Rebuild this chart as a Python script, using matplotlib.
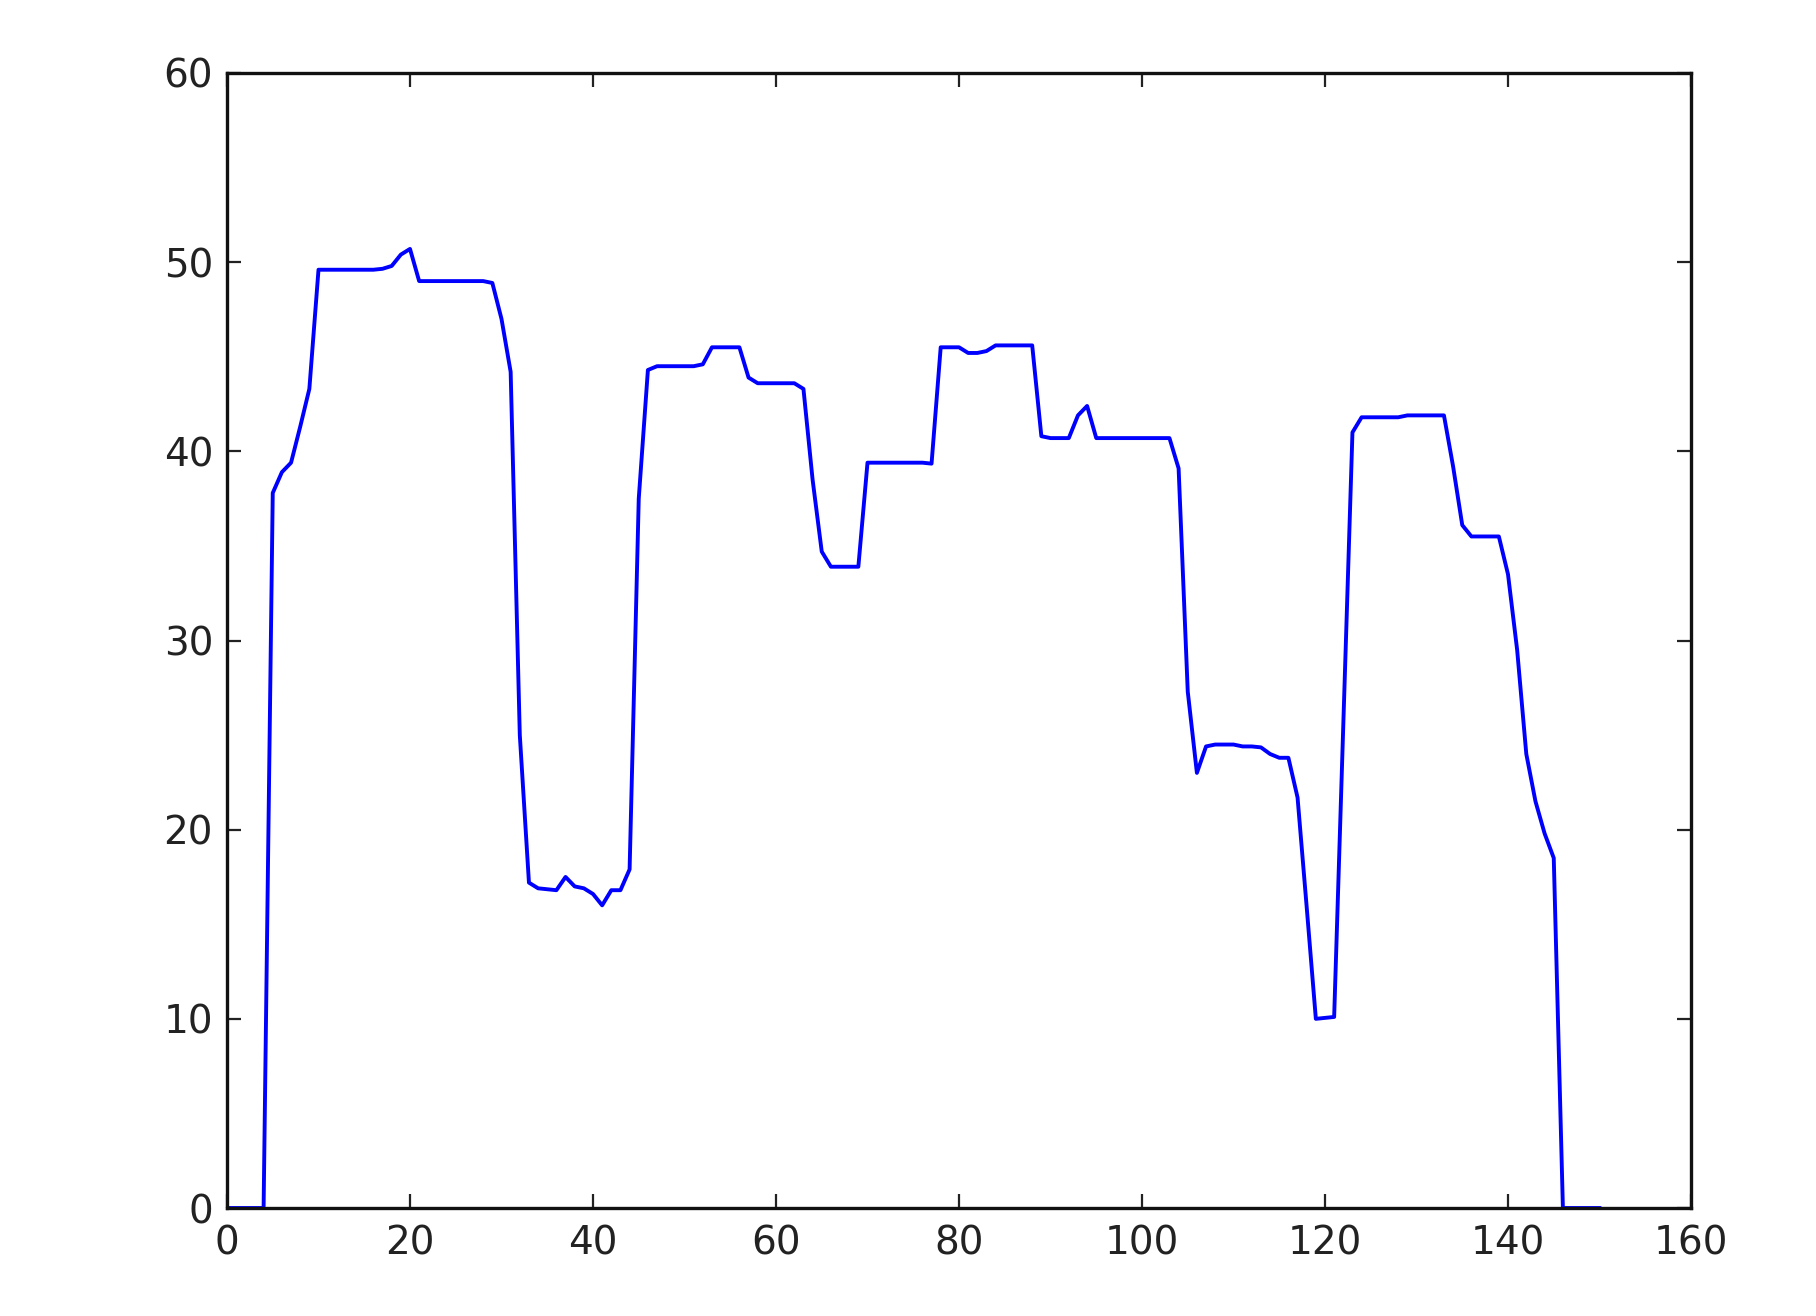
import numpy as np
import matplotlib
matplotlib.use("Agg")
import matplotlib.pyplot as plt

x_values = list(range(151))
y_values = [
    0, 0, 0, 0, 0, 37.8, 38.9, 39.4, 41.3, 43.3,
    49.6, 49.6, 49.6, 49.6, 49.6, 49.6, 49.6, 49.65, 49.8, 50.4,
    50.7, 49.0, 49.0, 49.0, 49.0, 49.0, 49.0, 49.0, 49.0, 48.9,
    47.0, 44.2, 25.0, 17.2, 16.9, 16.85, 16.8, 17.5, 17.0, 16.9,
    16.6, 16.0, 16.8, 16.8, 17.9, 37.5, 44.3, 44.5, 44.5, 44.5,
    44.5, 44.5, 44.6, 45.5, 45.5, 45.5, 45.5, 43.9, 43.6, 43.6,
    43.6, 43.6, 43.6, 43.3, 38.5, 34.7, 33.9, 33.9, 33.9, 33.9,
    39.4, 39.4, 39.4, 39.4, 39.4, 39.4, 39.4, 39.35, 45.5, 45.5,
    45.5, 45.2, 45.2, 45.3, 45.6, 45.6, 45.6, 45.6, 45.6, 40.8,
    40.7, 40.7, 40.7, 41.9, 42.4, 40.7, 40.7, 40.7, 40.7, 40.7,
    40.7, 40.7, 40.7, 40.7, 39.1, 27.3, 23.0, 24.4, 24.5, 24.5,
    24.5, 24.4, 24.4, 24.35, 24.0, 23.8, 23.8, 21.7, 15.9, 10.0,
    10.05, 10.1, 25.5, 41.0, 41.8, 41.8, 41.8, 41.8, 41.8, 41.9,
    41.9, 41.9, 41.9, 41.9, 39.2, 36.1, 35.5, 35.5, 35.5, 35.5,
    33.5, 29.5, 24.0, 21.5, 19.8, 18.5, 0, 0, 0, 0,
    0,
]
x_ticks = [0, 20, 40, 60, 80, 100, 120, 140, 160]
y_ticks = [0, 10, 20, 30, 40, 50, 60]

plt.rcParams['font.family'] = ['DejaVu Sans']
fig = plt.figure(figsize=(9.08, 6.58), dpi=200, facecolor='white')
ax = fig.add_axes([227/1816, 1 - 1208/1316, (1691-227)/1816, (1208-73)/1316])
ax.plot(x_values, y_values, color='#0000ff', linewidth=1.4)
ax.set_xlim(0, 160)
ax.set_ylim(0, 60)
ax.set_xticks(x_ticks)
ax.set_yticks(y_ticks)
ax.tick_params(direction='in', length=5, width=0.8, top=True, right=True,
               labelsize=14, colors='#222222')
ax.tick_params(axis='x', pad=6)
ax.tick_params(axis='y', pad=5)
for s in ax.spines.values():
    s.set_linewidth(1.2)
    s.set_color('#111111')
fig.savefig('out.png', dpi=200, facecolor='white')
